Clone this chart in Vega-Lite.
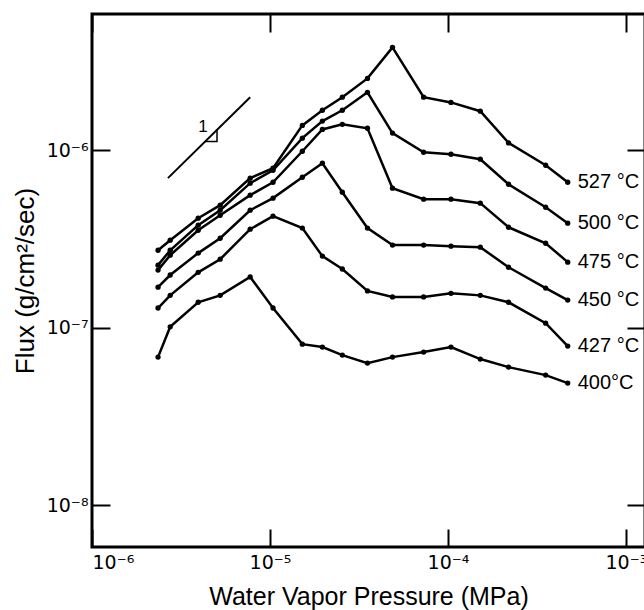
{
  "$schema": "https://vega.github.io/schema/vega-lite/v6.json",
  "width": 553,
  "height": 533,
  "autosize": {"type": "none"},
  "padding": {"left": 92, "top": 14, "right": 0, "bottom": 63},
  "background": "white",
  "config": {
    "view": {"stroke": "black", "strokeWidth": 3},
    "font": "Liberation Sans",
    "axis": {
      "grid": false,
      "domain": false,
      "tickColor": "black",
      "tickWidth": 2,
      "tickSize": -18,
      "labelColor": "black",
      "labelFont": "DejaVu Sans",
      "labelFontSize": 19,
      "titleColor": "black",
      "titleFont": "Liberation Sans",
      "titleFontWeight": "normal",
      "titleFontSize": 25
    }
  },
  "datasets": {
    "flux": [
      {"s": "527 °C", "p": 2.35e-6, "f": 2.73e-7},
      {"s": "527 °C", "p": 2.75e-6, "f": 3.11e-7},
      {"s": "527 °C", "p": 3.95e-6, "f": 4.14e-7},
      {"s": "527 °C", "p": 5.25e-6, "f": 4.90e-7},
      {"s": "527 °C", "p": 7.74e-6, "f": 6.96e-7},
      {"s": "527 °C", "p": 1.04e-5, "f": 7.92e-7},
      {"s": "527 °C", "p": 1.52e-5, "f": 1.38e-6},
      {"s": "527 °C", "p": 1.97e-5, "f": 1.68e-6},
      {"s": "527 °C", "p": 2.55e-5, "f": 1.99e-6},
      {"s": "527 °C", "p": 3.53e-5, "f": 2.54e-6},
      {"s": "527 °C", "p": 4.88e-5, "f": 3.80e-6},
      {"s": "527 °C", "p": 7.3e-5, "f": 1.99e-6},
      {"s": "527 °C", "p": 1.04e-4, "f": 1.86e-6},
      {"s": "527 °C", "p": 1.52e-4, "f": 1.66e-6},
      {"s": "527 °C", "p": 2.19e-4, "f": 1.10e-6},
      {"s": "527 °C", "p": 3.54e-4, "f": 8.23e-7},
      {"s": "527 °C", "p": 4.71e-4, "f": 6.60e-7},

      {"s": "500 °C", "p": 2.35e-6, "f": 2.25e-7},
      {"s": "500 °C", "p": 2.75e-6, "f": 2.73e-7},
      {"s": "500 °C", "p": 3.95e-6, "f": 3.78e-7},
      {"s": "500 °C", "p": 5.25e-6, "f": 4.59e-7},
      {"s": "500 °C", "p": 7.74e-6, "f": 6.52e-7},
      {"s": "500 °C", "p": 1.04e-5, "f": 7.71e-7},
      {"s": "500 °C", "p": 1.52e-5, "f": 1.17e-6},
      {"s": "500 °C", "p": 1.97e-5, "f": 1.46e-6},
      {"s": "500 °C", "p": 2.55e-5, "f": 1.68e-6},
      {"s": "500 °C", "p": 3.53e-5, "f": 2.12e-6},
      {"s": "500 °C", "p": 4.88e-5, "f": 1.25e-6},
      {"s": "500 °C", "p": 7.3e-5, "f": 9.74e-7},
      {"s": "500 °C", "p": 1.04e-4, "f": 9.49e-7},
      {"s": "500 °C", "p": 1.52e-4, "f": 8.90e-7},
      {"s": "500 °C", "p": 2.19e-4, "f": 6.43e-7},
      {"s": "500 °C", "p": 3.54e-4, "f": 4.77e-7},
      {"s": "500 °C", "p": 4.71e-4, "f": 3.88e-7},

      {"s": "475 °C", "p": 2.35e-6, "f": 2.11e-7},
      {"s": "475 °C", "p": 2.75e-6, "f": 2.56e-7},
      {"s": "475 °C", "p": 3.95e-6, "f": 3.54e-7},
      {"s": "475 °C", "p": 5.25e-6, "f": 4.30e-7},
      {"s": "475 °C", "p": 7.74e-6, "f": 5.58e-7},
      {"s": "475 °C", "p": 1.04e-5, "f": 6.60e-7},
      {"s": "475 °C", "p": 1.52e-5, "f": 9.87e-7},
      {"s": "475 °C", "p": 1.97e-5, "f": 1.31e-6},
      {"s": "475 °C", "p": 2.55e-5, "f": 1.40e-6},
      {"s": "475 °C", "p": 3.53e-5, "f": 1.33e-6},
      {"s": "475 °C", "p": 4.88e-5, "f": 6.11e-7},
      {"s": "475 °C", "p": 7.3e-5, "f": 5.30e-7},
      {"s": "475 °C", "p": 1.04e-4, "f": 5.30e-7},
      {"s": "475 °C", "p": 1.52e-4, "f": 5.03e-7},
      {"s": "475 °C", "p": 2.19e-4, "f": 3.68e-7},
      {"s": "475 °C", "p": 3.54e-4, "f": 2.99e-7},
      {"s": "475 °C", "p": 4.71e-4, "f": 2.34e-7},

      {"s": "450 °C", "p": 2.35e-6, "f": 1.69e-7},
      {"s": "450 °C", "p": 2.75e-6, "f": 1.98e-7},
      {"s": "450 °C", "p": 3.95e-6, "f": 2.63e-7},
      {"s": "450 °C", "p": 5.25e-6, "f": 3.19e-7},
      {"s": "450 °C", "p": 7.74e-6, "f": 4.59e-7},
      {"s": "450 °C", "p": 1.04e-5, "f": 5.37e-7},
      {"s": "450 °C", "p": 1.52e-5, "f": 7.04e-7},
      {"s": "450 °C", "p": 1.97e-5, "f": 8.45e-7},
      {"s": "450 °C", "p": 2.55e-5, "f": 5.80e-7},
      {"s": "450 °C", "p": 3.53e-5, "f": 3.64e-7},
      {"s": "450 °C", "p": 4.88e-5, "f": 2.92e-7},
      {"s": "450 °C", "p": 7.3e-5, "f": 2.92e-7},
      {"s": "450 °C", "p": 1.04e-4, "f": 2.88e-7},
      {"s": "450 °C", "p": 1.52e-4, "f": 2.84e-7},
      {"s": "450 °C", "p": 2.19e-4, "f": 2.19e-7},
      {"s": "450 °C", "p": 3.54e-4, "f": 1.67e-7},
      {"s": "450 °C", "p": 4.71e-4, "f": 1.43e-7},

      {"s": "427 °C", "p": 2.35e-6, "f": 1.29e-7},
      {"s": "427 °C", "p": 2.75e-6, "f": 1.52e-7},
      {"s": "427 °C", "p": 3.95e-6, "f": 2.05e-7},
      {"s": "427 °C", "p": 5.25e-6, "f": 2.43e-7},
      {"s": "427 °C", "p": 7.74e-6, "f": 3.59e-7},
      {"s": "427 °C", "p": 1.04e-5, "f": 4.25e-7},
      {"s": "427 °C", "p": 1.52e-5, "f": 3.64e-7},
      {"s": "427 °C", "p": 1.97e-5, "f": 2.53e-7},
      {"s": "427 °C", "p": 2.55e-5, "f": 2.14e-7},
      {"s": "427 °C", "p": 3.53e-5, "f": 1.61e-7},
      {"s": "427 °C", "p": 4.88e-5, "f": 1.49e-7},
      {"s": "427 °C", "p": 7.3e-5, "f": 1.49e-7},
      {"s": "427 °C", "p": 1.04e-4, "f": 1.56e-7},
      {"s": "427 °C", "p": 1.52e-4, "f": 1.52e-7},
      {"s": "427 °C", "p": 2.19e-4, "f": 1.39e-7},
      {"s": "427 °C", "p": 3.54e-4, "f": 1.06e-7},
      {"s": "427 °C", "p": 4.71e-4, "f": 7.87e-8},

      {"s": "400°C", "p": 2.35e-6, "f": 6.82e-8},
      {"s": "400°C", "p": 2.75e-6, "f": 1.01e-7},
      {"s": "400°C", "p": 3.95e-6, "f": 1.39e-7},
      {"s": "400°C", "p": 5.25e-6, "f": 1.52e-7},
      {"s": "400°C", "p": 7.74e-6, "f": 1.93e-7},
      {"s": "400°C", "p": 1.04e-5, "f": 1.29e-7},
      {"s": "400°C", "p": 1.52e-5, "f": 8.07e-8},
      {"s": "400°C", "p": 1.97e-5, "f": 7.77e-8},
      {"s": "400°C", "p": 2.55e-5, "f": 7.00e-8},
      {"s": "400°C", "p": 3.53e-5, "f": 6.31e-8},
      {"s": "400°C", "p": 4.88e-5, "f": 6.82e-8},
      {"s": "400°C", "p": 7.3e-5, "f": 7.28e-8},
      {"s": "400°C", "p": 1.04e-4, "f": 7.77e-8},
      {"s": "400°C", "p": 1.52e-4, "f": 6.65e-8},
      {"s": "400°C", "p": 2.19e-4, "f": 5.99e-8},
      {"s": "400°C", "p": 3.54e-4, "f": 5.40e-8},
      {"s": "400°C", "p": 4.71e-4, "f": 4.87e-8}
    ],
    "slope": [
      {"p": 2.67e-6, "f": 6.96e-7},
      {"p": 7.74e-6, "f": 1.99e-6}
    ],
    "triangle": [
      {"o": 1, "p": 4.31e-6, "f": 1.12e-6},
      {"o": 2, "p": 5.04e-6, "f": 1.12e-6},
      {"o": 3, "p": 5.04e-6, "f": 1.308e-6}
    ],
    "slopeLabel": [
      {"p": 4.2e-6, "f": 1.36e-6, "t": "1"}
    ]
  },
  "layer": [
    {
      "data": {"name": "flux"},
      "mark": {"type": "line", "color": "black", "strokeWidth": 2.5},
      "encoding": {
        "x": {
          "field": "p", "type": "quantitative",
          "scale": {"type": "log", "domain": [1e-6, 1.28e-3], "nice": false},
          "axis": {
            "orient": "bottom",
            "values": [1e-6, 1e-5, 1e-4, 1e-3],
            "labelExpr": "'10⁻' + (round(-log(datum.value)/LN10) == 3 ? '³' : round(-log(datum.value)/LN10) == 4 ? '⁴' : round(-log(datum.value)/LN10) == 5 ? '⁵' : '⁶')",
            "labelPadding": 24,
            "title": "Water Vapor Pressure (MPa)",
            "titlePadding": 12
          }
        },
        "y": {
          "field": "f", "type": "quantitative",
          "scale": {"type": "log", "domain": [5.8e-9, 5.86e-6], "nice": false},
          "axis": {
            "orient": "left",
            "values": [1e-8, 1e-7, 1e-6],
            "labelExpr": "'10⁻' + (round(-log(datum.value)/LN10) == 6 ? '⁶' : round(-log(datum.value)/LN10) == 7 ? '⁷' : '⁸')",
            "labelPadding": 22,
            "title": "Flux (g/cm²/sec)",
            "titleFontSize": 26,
            "titlePadding": 8
          }
        },
        "detail": {"field": "s"}
      }
    },
    {
      "data": {"name": "flux"},
      "mark": {"type": "point", "filled": true, "color": "black", "opacity": 1, "size": 28},
      "encoding": {
        "x": {
          "field": "p", "type": "quantitative",
          "scale": {"type": "log", "domain": [1e-6, 1.28e-3], "nice": false},
          "axis": {"orient": "top", "values": [1e-6, 1e-5, 1e-4, 1e-3], "labels": false, "title": null}
        },
        "y": {
          "field": "f", "type": "quantitative",
          "scale": {"type": "log", "domain": [5.8e-9, 5.86e-6], "nice": false},
          "axis": {"orient": "right", "values": [1e-8, 1e-7, 1e-6], "labels": false, "title": null}
        }
      }
    },
    {
      "data": {"name": "flux"},
      "transform": [{"filter": "datum.p > 4.6e-4"}],
      "mark": {"type": "text", "align": "left", "baseline": "middle", "dx": 10, "fontSize": 20, "font": "Liberation Sans", "color": "black"},
      "encoding": {
        "x": {"field": "p", "type": "quantitative", "scale": {"type": "log", "domain": [1e-6, 1.28e-3], "nice": false}, "axis": null},
        "y": {"field": "f", "type": "quantitative", "scale": {"type": "log", "domain": [5.8e-9, 5.86e-6], "nice": false}, "axis": null},
        "text": {"field": "s"}
      }
    },
    {
      "data": {"name": "slope"},
      "mark": {"type": "line", "color": "black", "strokeWidth": 2},
      "encoding": {
        "x": {"field": "p", "type": "quantitative", "scale": {"type": "log", "domain": [1e-6, 1.28e-3], "nice": false}, "axis": null},
        "y": {"field": "f", "type": "quantitative", "scale": {"type": "log", "domain": [5.8e-9, 5.86e-6], "nice": false}, "axis": null}
      }
    },
    {
      "data": {"name": "triangle"},
      "mark": {"type": "line", "color": "black", "strokeWidth": 1.5},
      "encoding": {
        "x": {"field": "p", "type": "quantitative", "scale": {"type": "log", "domain": [1e-6, 1.28e-3], "nice": false}, "axis": null},
        "y": {"field": "f", "type": "quantitative", "scale": {"type": "log", "domain": [5.8e-9, 5.86e-6], "nice": false}, "axis": null},
        "order": {"field": "o"}
      }
    },
    {
      "data": {"name": "slopeLabel"},
      "mark": {"type": "text", "fontSize": 17, "font": "Liberation Sans", "color": "black", "align": "center", "baseline": "middle"},
      "encoding": {
        "x": {"field": "p", "type": "quantitative", "scale": {"type": "log", "domain": [1e-6, 1.28e-3], "nice": false}, "axis": null},
        "y": {"field": "f", "type": "quantitative", "scale": {"type": "log", "domain": [5.8e-9, 5.86e-6], "nice": false}, "axis": null},
        "text": {"field": "t"}
      }
    }
  ],
  "resolve": {"axis": {"x": "independent", "y": "independent"}}
}
